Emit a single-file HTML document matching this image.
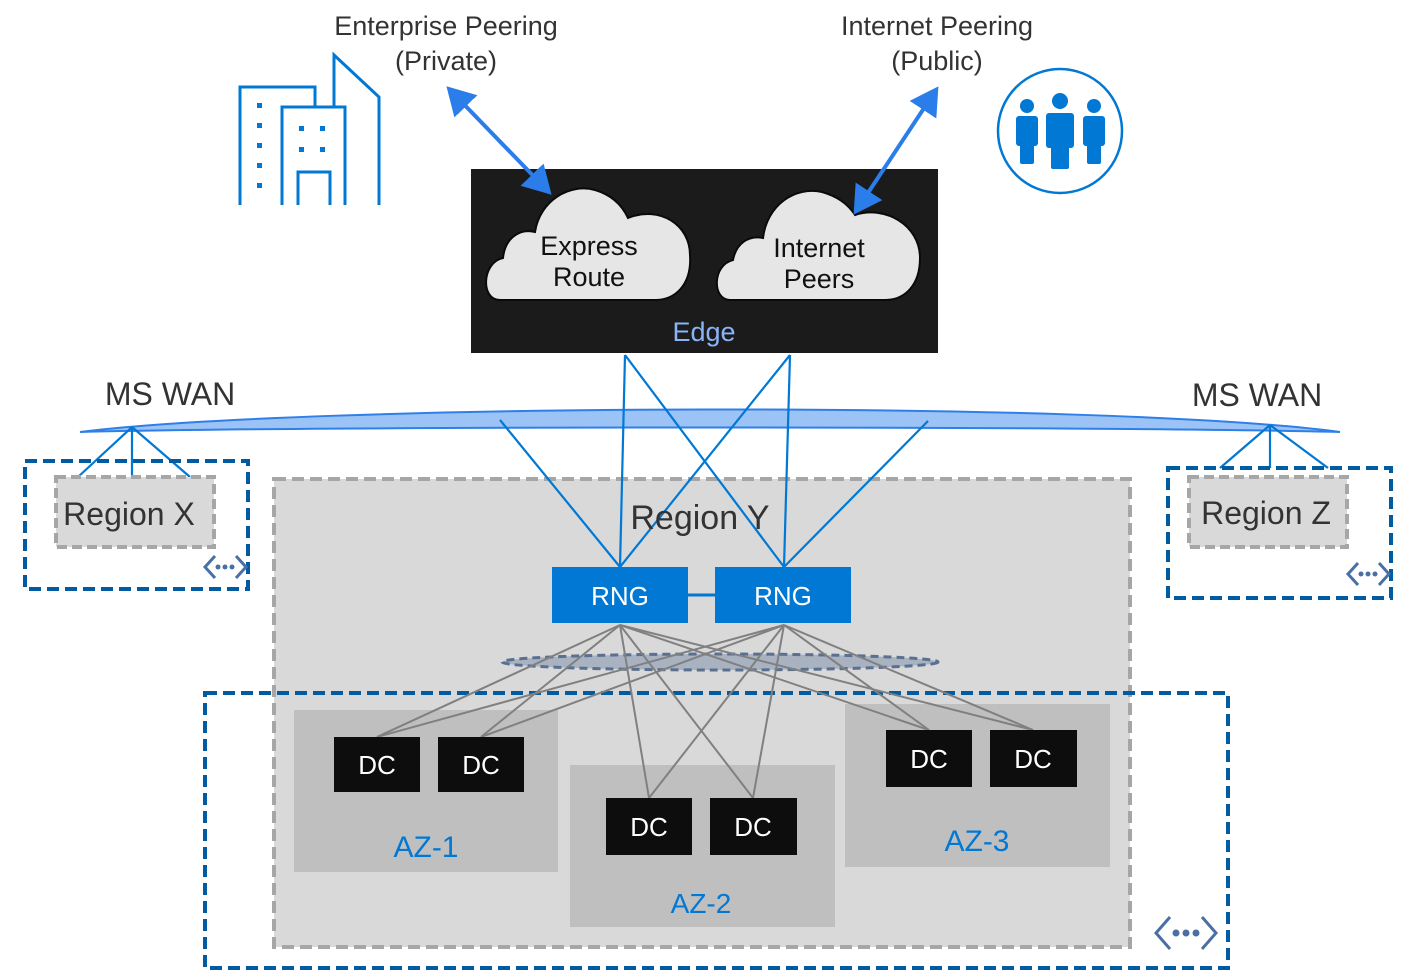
<!DOCTYPE html>
<html><head><meta charset="utf-8"><style>
html,body{margin:0;padding:0;background:#fff}
svg{display:block}
text{font-family:"Liberation Sans",sans-serif}
</style></head><body>
<svg width="1416" height="971" viewBox="0 0 1416 971" xmlns="http://www.w3.org/2000/svg">
<defs>
<marker id="ah" markerWidth="8" markerHeight="8" refX="5" refY="4" orient="auto-start-reverse" markerUnits="strokeWidth"><path d="M0,0 L7,4 L0,8 z" fill="#2b7de9"/></marker>
</defs>
<g font-size="27" fill="#333" text-anchor="middle">
<text x="446" y="35">Enterprise Peering</text>
<text x="446" y="70">(Private)</text>
<text x="937" y="35">Internet Peering</text>
<text x="937" y="70">(Public)</text>
</g>
<g fill="none" stroke="#0078d4" stroke-width="3">
<path d="M240,205 V87 H315 V107"/>
<path d="M334,107 V55 L379,97 V205"/>
<path d="M282,205 V107 H345 V205"/>
<path d="M298,205 V172 H330 V205"/>
</g>
<g fill="#0078d4">
<rect x="257" y="103" width="5" height="5"/><rect x="257" y="123" width="5" height="5"/><rect x="257" y="143" width="5" height="5"/><rect x="257" y="163" width="5" height="5"/><rect x="257" y="183" width="5" height="5"/>
<rect x="299" y="126" width="5" height="5"/><rect x="320" y="126" width="5" height="5"/><rect x="299" y="147" width="5" height="5"/><rect x="320" y="147" width="5" height="5"/>
</g>
<circle cx="1060" cy="131" r="62" fill="none" stroke="#0078d4" stroke-width="2.5"/>
<g fill="#0078d4">
<circle cx="1027" cy="106" r="7"/><rect x="1016" y="116" width="22" height="30" rx="3"/><rect x="1020" y="140" width="14" height="24" rx="2"/>
<circle cx="1060" cy="101" r="8"/><rect x="1046" y="113" width="28" height="35" rx="3"/><rect x="1051" y="140" width="18" height="29" rx="2"/>
<circle cx="1094" cy="106" r="7"/><rect x="1083" y="116" width="22" height="30" rx="3"/><rect x="1087" y="140" width="14" height="24" rx="2"/>
</g>
<rect x="471" y="169" width="467" height="184" fill="#1b1b1b"/>
<g fill="#e6e6e6" stroke="#0a0a0a" stroke-width="2">
<path d="M500,300 C480,300 482,262 503,258 C505,238 520,228 535,232 C540,200 570,183 595,190 C612,195 622,205 628,218 C660,205 690,225 690,255 C692,285 675,300 655,300 Z"/>
<path d="M730,300 C712,300 712,265 733,260 C736,244 748,235 763,238 C767,205 795,186 822,192 C840,197 850,207 855,215 C885,205 920,225 920,258 C920,285 905,300 885,300 Z"/>
</g>
<g font-size="27" fill="#111" text-anchor="middle">
<text x="589" y="255">Express</text><text x="589" y="286">Route</text>
<text x="819" y="257">Internet</text><text x="819" y="288">Peers</text>
</g>
<text x="704" y="341" font-size="27" fill="#8ab4f8" text-anchor="middle">Edge</text>
<line x1="452" y1="92" x2="546" y2="189" stroke="#2b7de9" stroke-width="4" marker-start="url(#ah)" marker-end="url(#ah)"/>
<line x1="934" y1="93" x2="858" y2="208" stroke="#2b7de9" stroke-width="4" marker-start="url(#ah)" marker-end="url(#ah)"/>
<g font-size="32" fill="#333" text-anchor="middle"><text x="170" y="405">MS WAN</text><text x="1257" y="406">MS WAN</text></g>
<rect x="274" y="479" width="856" height="468" fill="#d9d9d9" stroke="#a6a6a6" stroke-width="4" stroke-dasharray="12,6"/>
<path d="M80,432 C300,404 1100,400 1340,432 C1100,426 300,426 80,432 Z" fill="#9cc3f5" stroke="#2f7fe8" stroke-width="2"/>
<g stroke="#0078d4" stroke-width="2.2" fill="none">
<line x1="625" y1="355" x2="620" y2="567"/><line x1="625" y1="355" x2="784" y2="567"/>
<line x1="790" y1="355" x2="620" y2="567"/><line x1="790" y1="355" x2="784" y2="567"/>
<line x1="500" y1="420" x2="620" y2="567"/><line x1="928" y1="421" x2="784" y2="567"/>
<line x1="132" y1="427" x2="78" y2="477"/><line x1="132" y1="427" x2="132" y2="477"/><line x1="132" y1="427" x2="190" y2="477"/>
<line x1="1270" y1="425" x2="1220" y2="468"/><line x1="1270" y1="425" x2="1270" y2="468"/><line x1="1270" y1="425" x2="1328" y2="468"/>
</g>
<text x="700" y="529" font-size="34" fill="#333" text-anchor="middle">Region Y</text>
<rect x="25" y="461" width="223" height="128" fill="none" stroke="#005ba1" stroke-width="4" stroke-dasharray="12,6"/>
<rect x="56" y="477" width="158" height="70" fill="#d9d9d9" stroke="#a6a6a6" stroke-width="4" stroke-dasharray="10,5"/>
<text x="129" y="525" font-size="32" fill="#333" text-anchor="middle">Region X</text>
<rect x="1168" y="468" width="223" height="130" fill="none" stroke="#005ba1" stroke-width="4" stroke-dasharray="12,6"/>
<rect x="1189" y="477" width="158" height="70" fill="#d9d9d9" stroke="#a6a6a6" stroke-width="4" stroke-dasharray="10,5"/>
<text x="1266" y="524" font-size="32" fill="#333" text-anchor="middle">Region Z</text>
<rect x="205" y="693" width="1023" height="275" fill="none" stroke="#005ba1" stroke-width="4" stroke-dasharray="12,6"/>
<rect x="294" y="710" width="264" height="162" fill="#bfbfbf"/>
<rect x="570" y="765" width="265" height="162" fill="#bfbfbf"/>
<rect x="845" y="704" width="265" height="163" fill="#bfbfbf"/>
<ellipse cx="720" cy="662" rx="218" ry="8" fill="#a9b2c0" stroke="#5a7090" stroke-width="3" stroke-dasharray="8,5"/>
<g stroke="#808080" stroke-width="2">
<line x1="620" y1="625" x2="377" y2="737"/><line x1="620" y1="625" x2="481" y2="737"/><line x1="620" y1="625" x2="649" y2="798"/><line x1="620" y1="625" x2="753" y2="798"/><line x1="620" y1="625" x2="929" y2="730"/><line x1="620" y1="625" x2="1033" y2="730"/>
<line x1="784" y1="625" x2="377" y2="737"/><line x1="784" y1="625" x2="481" y2="737"/><line x1="784" y1="625" x2="649" y2="798"/><line x1="784" y1="625" x2="753" y2="798"/><line x1="784" y1="625" x2="929" y2="730"/><line x1="784" y1="625" x2="1033" y2="730"/>
</g>
<line x1="688" y1="595" x2="715" y2="595" stroke="#0078d4" stroke-width="3"/>
<rect x="552" y="567" width="136" height="56" fill="#0078d4"/>
<rect x="715" y="567" width="136" height="56" fill="#0078d4"/>
<g font-size="26" fill="#fff" text-anchor="middle"><text x="620" y="605">RNG</text><text x="783" y="605">RNG</text></g>
<g fill="#0d0d0d">
<rect x="334" y="737" width="86" height="55"/><rect x="438" y="737" width="86" height="55"/>
<rect x="606" y="798" width="86" height="57"/><rect x="710" y="798" width="87" height="57"/>
<rect x="886" y="730" width="86" height="57"/><rect x="990" y="730" width="87" height="57"/>
</g>
<g font-size="26" fill="#fff" text-anchor="middle">
<text x="377" y="774">DC</text><text x="481" y="774">DC</text>
<text x="649" y="836">DC</text><text x="753" y="836">DC</text>
<text x="929" y="768">DC</text><text x="1033" y="768">DC</text>
</g>
<g fill="#0078d4" text-anchor="middle">
<text x="426" y="857" font-size="30">AZ-1</text>
<text x="701" y="913" font-size="28">AZ-2</text>
<text x="977" y="851" font-size="30">AZ-3</text>
</g>
<g fill="none" stroke="#4a6fa5" stroke-width="3">
<path d="M215,556 L205,567 L215,578 M236,556 L246,567 L236,578"/>
<path d="M1358,563 L1348,574 L1358,585 M1379,563 L1389,574 L1379,585"/>
<path d="M1170,917 L1156,933 L1170,949 M1202,917 L1216,933 L1202,949"/>
</g>
<g fill="#4a6fa5">
<circle cx="218" cy="567" r="2.5"/><circle cx="225" cy="567" r="2.5"/><circle cx="232" cy="567" r="2.5"/>
<circle cx="1361" cy="574" r="2.5"/><circle cx="1368" cy="574" r="2.5"/><circle cx="1375" cy="574" r="2.5"/>
<circle cx="1176" cy="933" r="3.5"/><circle cx="1186" cy="933" r="3.5"/><circle cx="1196" cy="933" r="3.5"/>
</g>
</svg>
</body></html>
